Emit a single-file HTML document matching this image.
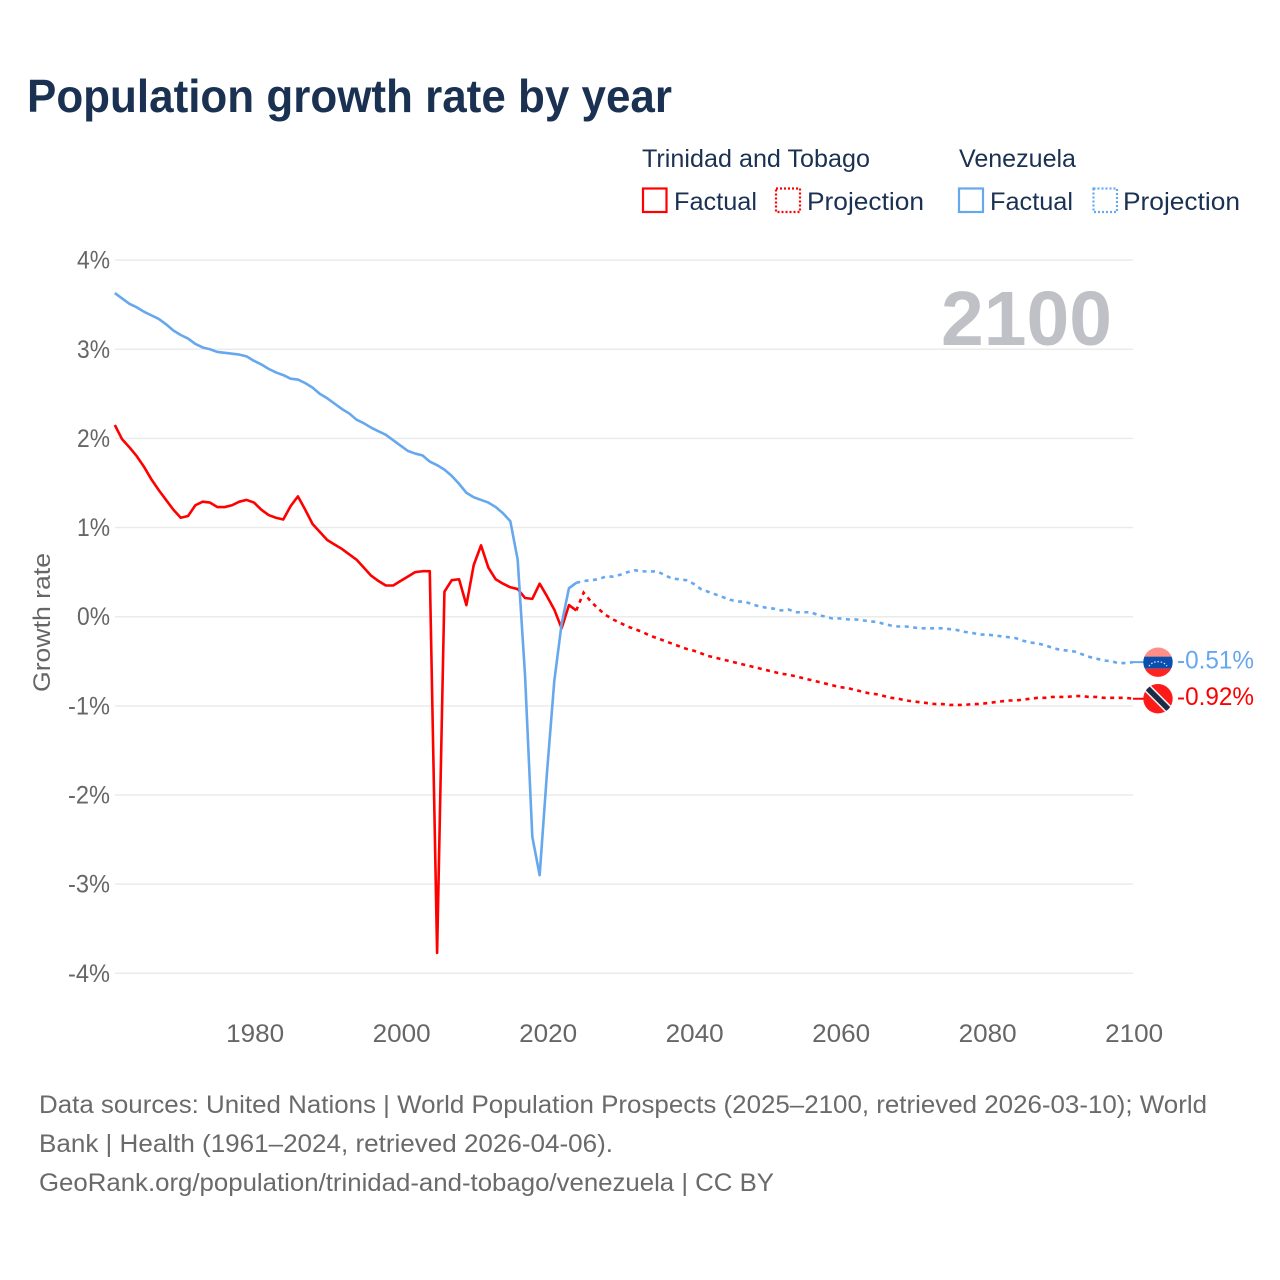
<!DOCTYPE html>
<html lang="en">
<head>
<meta charset="utf-8">
<title>Population growth rate by year</title>
<style>
html,body{margin:0;padding:0;background:#fff;}
svg{display:block;}
text{font-family:"Liberation Sans",Arial,sans-serif;}
</style>
</head>
<body>
<svg id="chart" xmlns="http://www.w3.org/2000/svg" width="1280" height="1280" viewBox="0 0 1280 1280">
  <rect width="1280" height="1280" fill="#ffffff"/>
  <text x="27" y="112" font-size="46" font-weight="700" fill="#1a3152" textLength="645" lengthAdjust="spacingAndGlyphs">Population growth rate by year</text>

  <g font-size="25" fill="#1a3152">
    <text x="642" y="167" textLength="228" lengthAdjust="spacingAndGlyphs">Trinidad and Tobago</text>
    <text x="959" y="167" textLength="117" lengthAdjust="spacingAndGlyphs">Venezuela</text>
    <rect x="643" y="188.500" width="23.500" height="23.500" fill="none" stroke="#ff0000" stroke-width="2.200"/>
    <text x="674" y="210" textLength="83" lengthAdjust="spacingAndGlyphs">Factual</text>
    <rect x="776" y="188.500" width="24" height="23.500" fill="none" stroke="#ff0000" stroke-width="2.200" stroke-dasharray="2 2"/>
    <text x="807" y="210" textLength="117" lengthAdjust="spacingAndGlyphs">Projection</text>
    <rect x="959" y="188.500" width="24" height="23.500" fill="none" stroke="#66a8ee" stroke-width="2.200"/>
    <text x="990" y="210" textLength="83" lengthAdjust="spacingAndGlyphs">Factual</text>
    <rect x="1093.500" y="188.500" width="23.500" height="23.500" fill="none" stroke="#66a8ee" stroke-width="2.200" stroke-dasharray="2 2"/>
    <text x="1123" y="210" textLength="117" lengthAdjust="spacingAndGlyphs">Projection</text>
  </g>

  <g id="grid"></g>
  <text x="941" y="345" font-size="77" font-weight="700" fill="#c0c1c7" textLength="171" lengthAdjust="spacingAndGlyphs">2100</text>
  <g id="yticks"></g>
  <g id="xticks"></g>
  <text transform="translate(50,622.500) rotate(-90)" text-anchor="middle" font-size="24" fill="#666666" textLength="139" lengthAdjust="spacingAndGlyphs">Growth rate</text>
  <g id="series"></g>
  <g id="ends"></g>

  <g font-size="25" fill="#6a6a6a">
    <text x="39" y="1113" textLength="1168" lengthAdjust="spacingAndGlyphs">Data sources: United Nations | World Population Prospects (2025–2100, retrieved 2026-03-10); World</text>
    <text x="39" y="1152" textLength="574" lengthAdjust="spacingAndGlyphs">Bank | Health (1961–2024, retrieved 2026-04-06).</text>
    <text x="39" y="1191" textLength="735" lengthAdjust="spacingAndGlyphs">GeoRank.org/population/trinidad-and-tobago/venezuela | CC BY</text>
  </g>
</svg>
<script>
const yTickValues = [4, 3, 2, 1, 0, -1, -2, -3, -4];
const xTickValues = [1980, 2000, 2020, 2040, 2060, 2080, 2100];
const factualStartYear = 1961;
const projectionStartYear = 2024;

const trinidadFactual = [2.15,1.99,1.90,1.80,1.68,1.54,1.42,1.31,1.20,1.11,1.13,1.25,1.29,1.28,1.23,1.23,1.25,1.29,1.31,1.28,1.20,1.14,1.11,1.09,1.24,1.35,1.20,1.04,0.95,0.86,0.81,0.76,0.70,0.64,0.55,0.46,0.40,0.35,0.35,0.40,0.45,0.50,0.51,0.51,-3.77,0.28,0.41,0.42,0.13,0.58,0.80,0.55,0.42,0.37,0.33,0.31,0.21,0.20,0.37,0.23,0.08,-0.13,0.13,0.07];
const trinidadProjection = [0.07,0.27,0.17,0.09,0.02,-0.03,-0.07,-0.11,-0.14,-0.17,-0.21,-0.24,-0.27,-0.30,-0.33,-0.36,-0.38,-0.41,-0.44,-0.46,-0.48,-0.50,-0.52,-0.54,-0.56,-0.58,-0.60,-0.62,-0.64,-0.65,-0.67,-0.69,-0.71,-0.73,-0.75,-0.77,-0.79,-0.80,-0.82,-0.84,-0.86,-0.87,-0.89,-0.91,-0.92,-0.94,-0.95,-0.96,-0.97,-0.98,-0.98,-0.99,-0.99,-0.99,-0.98,-0.98,-0.97,-0.96,-0.95,-0.94,-0.94,-0.93,-0.92,-0.91,-0.91,-0.90,-0.90,-0.90,-0.89,-0.89,-0.90,-0.90,-0.91,-0.91,-0.91,-0.91,-0.92];
const venezuelaFactual = [3.63,3.57,3.51,3.47,3.42,3.38,3.34,3.28,3.21,3.16,3.12,3.06,3.02,3.00,2.97,2.96,2.95,2.94,2.92,2.87,2.83,2.78,2.74,2.71,2.67,2.66,2.62,2.57,2.50,2.45,2.39,2.33,2.28,2.21,2.17,2.12,2.08,2.04,1.98,1.92,1.86,1.83,1.81,1.74,1.70,1.65,1.58,1.49,1.39,1.34,1.31,1.28,1.23,1.16,1.07,0.64,-0.65,-2.47,-2.90,-1.75,-0.72,-0.08,0.32,0.38];
const venezuelaProjection = [0.38,0.40,0.41,0.42,0.45,0.45,0.47,0.50,0.52,0.51,0.505,0.51,0.47,0.43,0.42,0.41,0.37,0.31,0.28,0.25,0.22,0.19,0.17,0.17,0.14,0.115,0.10,0.09,0.07,0.08,0.05,0.05,0.05,0.02,0.00,-0.02,-0.02,-0.03,-0.03,-0.04,-0.05,-0.06,-0.08,-0.10,-0.11,-0.11,-0.12,-0.13,-0.13,-0.13,-0.13,-0.14,-0.15,-0.17,-0.18,-0.20,-0.20,-0.21,-0.22,-0.23,-0.24,-0.27,-0.29,-0.30,-0.32,-0.35,-0.37,-0.38,-0.39,-0.42,-0.45,-0.47,-0.49,-0.50,-0.52,-0.52,-0.51];

const SVG_NS = 'http://www.w3.org/2000/svg';
const RED = '#ff0000';
const BLUE = '#66a8ee';

function xScale(year) { return 114.8 + (year - 1961) * 7.325; }
function yScale(value) { return 616.7 - value * 89.15; }

function make(tag, attrs, parent) {
  const el = document.createElementNS(SVG_NS, tag);
  for (const k in attrs) el.setAttribute(k, attrs[k]);
  parent.appendChild(el);
  return el;
}

const gridG = document.getElementById('grid');
const yG = document.getElementById('yticks');
yTickValues.forEach(function (v) {
  const line = make('line', {x1: 115, x2: 1133, y1: yScale(v), y2: yScale(v), stroke: '#ebebeb', 'stroke-width': 1.5}, gridG);
  
  
  const label = make('text', {x: 110, y: yScale(v) + 8.5, 'text-anchor': 'end', 'font-size': 25, fill: '#666666', textLength: v < 0 ? 42 : 33, lengthAdjust: 'spacingAndGlyphs'}, yG);
  
  
  label.textContent = v + '%';
});

const xG = document.getElementById('xticks');
xTickValues.forEach(function (yr) {
  const label = make('text', {x: xScale(yr) + 1.2, y: 1042, 'text-anchor': 'middle', 'font-size': 25, fill: '#666666', textLength: 58, lengthAdjust: 'spacingAndGlyphs'}, xG);
  
  
  label.textContent = yr;
});

function buildPoints(values, startYear) {
  return values.map(function (v, i) {
    return xScale(startYear + i).toFixed(2) + ',' + yScale(v).toFixed(2);
  }).join(' ');
}

const seriesG = document.getElementById('series');

const venProj = make('polyline', {points: buildPoints(venezuelaProjection, projectionStartYear), fill: 'none', stroke: BLUE, 'stroke-width': 2.6, 'stroke-dasharray': '4 4.500'}, seriesG);



const triProj = make('polyline', {points: buildPoints(trinidadProjection, projectionStartYear), fill: 'none', stroke: RED, 'stroke-width': 2.6, 'stroke-dasharray': '4 4.500'}, seriesG);



const triFact = make('polyline', {points: buildPoints(trinidadFactual, factualStartYear), fill: 'none', stroke: RED, 'stroke-width': 2.6, 'stroke-linejoin': 'round'}, seriesG);



const venFact = make('polyline', {points: buildPoints(venezuelaFactual, factualStartYear), fill: 'none', stroke: BLUE, 'stroke-width': 2.6, 'stroke-linejoin': 'round'}, seriesG);



const endsG = document.getElementById('ends');
const endYear = 2100;
const flagX = 1158;
const flagR = 14.7;

function endLabel(value, color, name) {
  const y = yScale(value);
  const conn = make('line', {x1: xScale(endYear), y1: y, x2: flagX, y2: y, stroke: color, 'stroke-width': 2}, endsG);
  
  
  const t = make('text', {x: 1177, y: y + 6.5, 'font-size': 25, fill: color, textLength: 77, lengthAdjust: 'spacingAndGlyphs'}, endsG);
  
  
  t.textContent = value.toFixed(2) + '%';
  const g = make('g', {transform: 'translate(' + flagX + ',' + y + ')'}, endsG);
  
  
  return g;
}

const defs = make('defs', {}, endsG);
const clip = make('clipPath', {id: 'flag-clip'}, defs);
make('circle', {cx: 0, cy: 0, r: flagR}, clip);

const venEnd = venezuelaProjection[venezuelaProjection.length - 1];
const venFlag = endLabel(venEnd, BLUE, 'venezuela');
const venInner = make('g', {'clip-path': 'url(#flag-clip)'}, venFlag);
make('rect', {x: -16, y: -16, width: 32, height: 11, fill: '#ff8f86'}, venInner);
make('rect', {x: -16, y: -5.500, width: 32, height: 12, fill: '#0a4fae'}, venInner);
make('rect', {x: -16, y: 6.500, width: 32, height: 10, fill: '#ff2420'}, venInner);
make('path', {d: 'M-9 4 A10 8 0 0 1 9 4', fill: 'none', stroke: '#dfe8f5', 'stroke-width': 1.200, 'stroke-dasharray': '1.500 1.800'}, venInner);

const triEnd = trinidadProjection[trinidadProjection.length - 1];
const triFlag = endLabel(triEnd, RED, 'trinidad');
const triInner = make('g', {'clip-path': 'url(#flag-clip)'}, triFlag);
make('circle', {cx: 0, cy: 0, r: 16, fill: '#ff1a1a'}, triInner);
make('line', {x1: -15, y1: -15, x2: 15, y2: 15, stroke: '#f4f4f4', 'stroke-width': 8.500}, triInner);
make('line', {x1: -15, y1: -15, x2: 15, y2: 15, stroke: '#1c2c44', 'stroke-width': 5.500}, triInner);
</script>
</body>
</html>
